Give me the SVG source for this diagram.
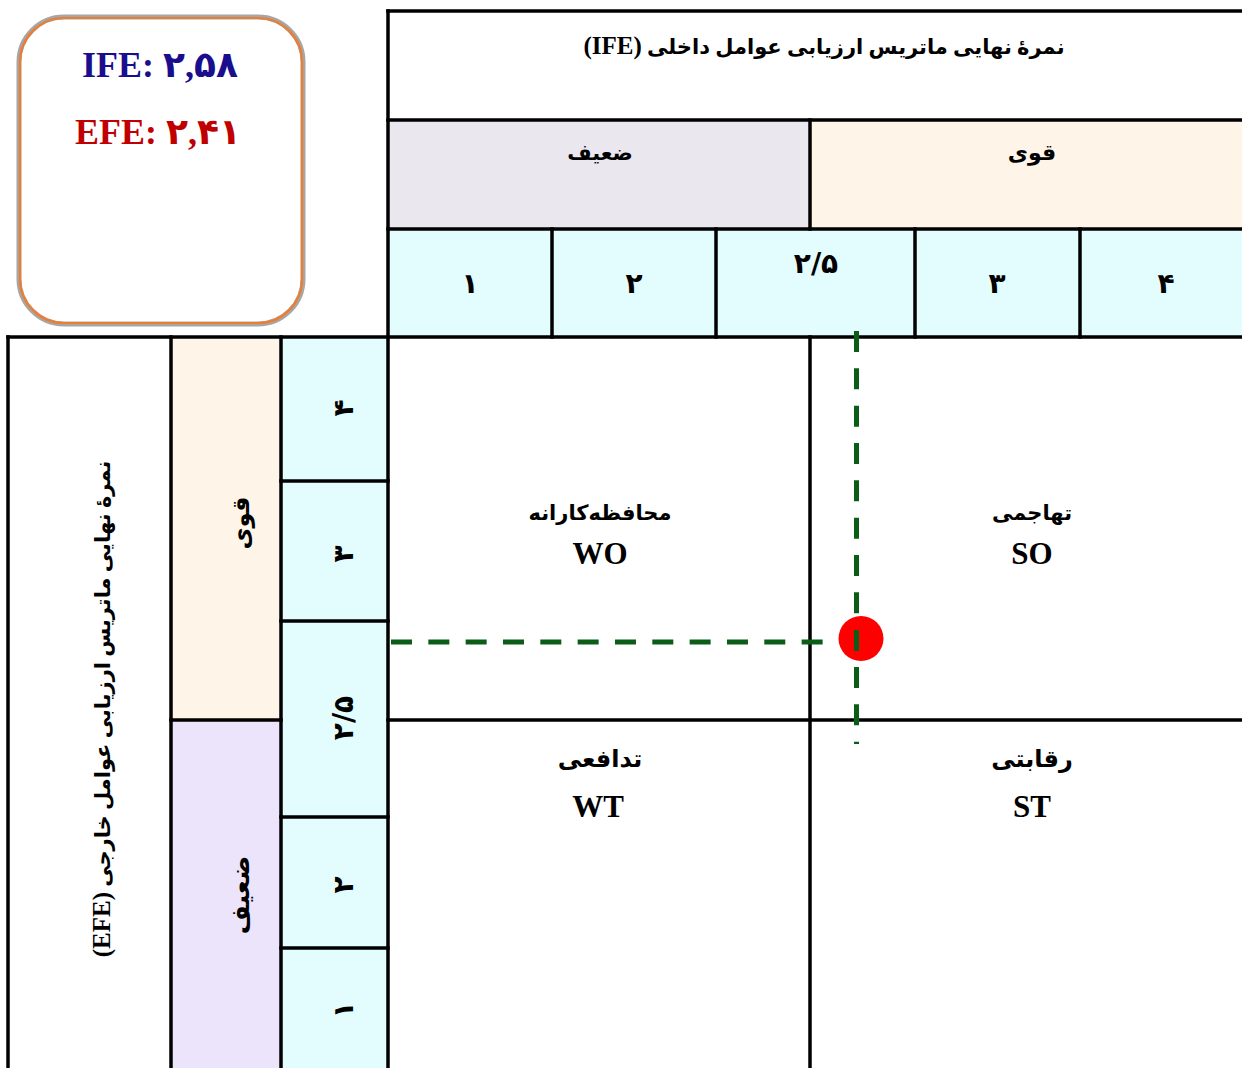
<svg xmlns="http://www.w3.org/2000/svg" width="1242" height="1068" viewBox="0 0 1242 1068">
<style>
.ln{stroke:#000;stroke-width:3.5;fill:none;stroke-linecap:square}
.fa{font-family:"Liberation Serif","DejaVu Sans",serif;font-weight:bold;direction:rtl;unicode-bidi:embed;text-anchor:middle;fill:#000}
.num{font-family:"DejaVu Sans",sans-serif;font-weight:bold;text-anchor:middle;fill:#000;font-size:28px}
.lat{font-family:"Liberation Serif","Times New Roman",serif;font-weight:bold;text-anchor:middle;fill:#000;font-size:31px}
.dash{stroke:#0B5C16;stroke-width:5;stroke-dasharray:21 16.33;fill:none}
.cyan{fill:#E3FCFD}
.peach{fill:#FEF4E8}
</style>
<rect width="1242" height="1068" fill="#fff"/>

<g id="legend">
<rect x="19" y="17" width="284" height="307" rx="45" fill="#fff" stroke="#A6A6A6" stroke-width="5"/>
<rect x="20" y="18" width="282" height="305" rx="44" fill="none" stroke="#ED7D31" stroke-width="2.2"/>
<text x="160" y="77" style="font-family:'Liberation Serif','DejaVu Sans',serif;font-weight:bold;font-size:36px;text-anchor:middle;fill:#1A0E8E">IFE: ۲,۵۸</text>
<text x="158" y="144" style="font-family:'Liberation Serif','DejaVu Sans',serif;font-weight:bold;font-size:36px;text-anchor:middle;fill:#C00000">EFE: ۲,۴۱</text>
</g>

<g id="ife-header">
<rect x="388" y="11" width="860" height="109" fill="#fff"/>
<text class="fa" x="824" y="54" font-size="21">نمرۀ نهایی ماتریس ارزیابی عوامل داخلی <tspan font-size="25">(IFE)</tspan></text>
</g>
<g id="ife-weak">
<rect x="388" y="120" width="422" height="109" fill="#EAE7EF"/>
<text class="fa" x="600" y="160" font-size="21">ضعیف</text>
</g>
<g id="ife-strong">
<rect x="810" y="120" width="438" height="109" class="peach"/>
<text class="fa" x="1032" y="160" font-size="22">قوی</text>
</g>
<g id="ife-scale">
<rect x="388" y="229" width="860" height="108" class="cyan"/>
<text class="num" x="470" y="293">۱</text>
<text class="num" x="634" y="293">۲</text>
<text class="num" x="816" y="273">۲/۵</text>
<text class="num" x="997" y="293">۳</text>
<text class="num" x="1166" y="293">۴</text>
</g>

<g id="efe-header">
<rect x="8" y="337" width="163" height="740" fill="#fff"/>
<text class="fa" font-size="21" transform="translate(110,709) rotate(-90)">نمرۀ نهایی ماتریس ارزیابی عوامل خارجی <tspan font-size="25">(EFE)</tspan></text>
</g>
<g id="efe-strong">
<rect x="171" y="337" width="110" height="383" class="peach"/>
<text class="fa" font-size="24" transform="translate(249,523) rotate(-90)">قوی</text>
</g>
<g id="efe-weak">
<rect x="171" y="720" width="110" height="357" fill="#ECE4FB"/>
<text class="fa" font-size="25" transform="translate(249,895) rotate(-90)">ضعیف</text>
</g>
<g id="efe-scale">
<rect x="281" y="337" width="107" height="740" class="cyan"/>
<text class="num" transform="translate(353,408) rotate(-90)">۴</text>
<text class="num" transform="translate(353,554) rotate(-90)">۳</text>
<text class="num" transform="translate(353,718) rotate(-90)">۲/۵</text>
<text class="num" transform="translate(353,885) rotate(-90)">۲</text>
<text class="num" transform="translate(353,1010) rotate(-90)">۱</text>
</g>

<g id="grid">
<line class="ln" x1="388" y1="11" x2="1250" y2="11"/>
<line class="ln" x1="388" y1="120" x2="1250" y2="120"/>
<line class="ln" x1="388" y1="229" x2="1250" y2="229"/>
<line class="ln" x1="8" y1="337" x2="1250" y2="337"/>
<line class="ln" x1="388" y1="11" x2="388" y2="1075"/>
<line class="ln" x1="810" y1="120" x2="810" y2="229"/>
<line class="ln" x1="552" y1="229" x2="552" y2="337"/>
<line class="ln" x1="716" y1="229" x2="716" y2="337"/>
<line class="ln" x1="915" y1="229" x2="915" y2="337"/>
<line class="ln" x1="1080" y1="229" x2="1080" y2="337"/>
<line class="ln" x1="8" y1="337" x2="8" y2="1075"/>
<line class="ln" x1="171" y1="337" x2="171" y2="1075"/>
<line class="ln" x1="281" y1="337" x2="281" y2="1075"/>
<line class="ln" x1="171" y1="720" x2="281" y2="720"/>
<line class="ln" x1="281" y1="481" x2="388" y2="481"/>
<line class="ln" x1="281" y1="621" x2="388" y2="621"/>
<line class="ln" x1="281" y1="817" x2="388" y2="817"/>
<line class="ln" x1="281" y1="948" x2="388" y2="948"/>
<line class="ln" x1="810" y1="337" x2="810" y2="1075"/>
<line class="ln" x1="388" y1="720" x2="1250" y2="720"/>
</g>

<g id="quadrant-wo">
<text class="fa" x="600" y="520" font-size="21">محافظه‌کارانه</text>
<text class="lat" x="600" y="564">WO</text>
</g>
<g id="quadrant-so">
<text class="fa" x="1032" y="520" font-size="21">تهاجمی</text>
<text class="lat" x="1032" y="564">SO</text>
</g>
<g id="quadrant-wt">
<text class="fa" x="600" y="767" font-size="24">تدافعی</text>
<text class="lat" x="598" y="817">WT</text>
</g>
<g id="quadrant-st">
<text class="fa" x="1032" y="767" font-size="24">رقابتی</text>
<text class="lat" x="1032" y="817">ST</text>
</g>

<g id="connectors">
<line class="dash" x1="391" y1="642" x2="823" y2="642"/>
<line class="dash" x1="856.5" y1="331" x2="856.5" y2="744"/>
</g>

<g id="position-point">
<circle cx="861" cy="638.5" r="22.5" fill="#FF0000"/>
<line x1="856.5" y1="630" x2="856.5" y2="651" stroke="#0B5C16" stroke-width="5"/>
</g>
</svg>
